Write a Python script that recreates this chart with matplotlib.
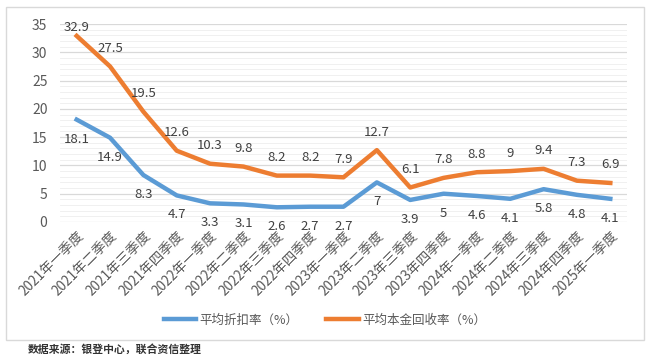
import matplotlib
matplotlib.use('Agg')
import matplotlib.pyplot as plt
from matplotlib.patches import Rectangle
from matplotlib.ticker import MultipleLocator

# fonts: CJK first, DejaVu as fallback
plt.rcParams['font.family'] = ['Noto Sans CJK SC', 'DejaVu Sans']

# data
quarters = ['2021年一季度', '2021年二季度', '2021年三季度', '2021年四季度',
            '2022年一季度', '2022年二季度', '2022年三季度', '2022年四季度',
            '2023年一季度', '2023年二季度', '2023年三季度', '2023年四季度',
            '2024年一季度', '2024年二季度', '2024年三季度', '2024年四季度',
            '2025年一季度']
discount = [18.1, 14.9, 8.3, 4.7, 3.3, 3.1, 2.6, 2.7, 2.7, 7, 3.9, 5, 4.6,
            4.1, 5.8, 4.8, 4.1]
recovery = [32.9, 27.5, 19.5, 12.6, 10.3, 9.8, 8.2, 8.2, 7.9, 12.7, 6.1, 7.8,
            8.8, 9, 9.4, 7.3, 6.9]
discount_name = '平均折扣率（%）'
recovery_name = '平均本金回收率（%）'
source = '数据来源：银登中心，联合资信整理'

blue, orange = '#5B9BD5', '#ED7D31'
txt = '#595959'

fig = plt.figure(figsize=(6.5, 3.58), dpi=100)

# light frame round the chart
fig.patches.append(Rectangle((6 / 650, 1 - 340 / 358), 638 / 650, 333 / 358,
                             transform=fig.transFigure, fill=False,
                             edgecolor='#d9d9d9', linewidth=1))

ax = fig.add_axes([60 / 650, 1 - 222 / 358, 567 / 650, 198 / 358])
x = list(range(len(quarters)))
ax.plot(x, discount, color=blue, linewidth=3.2, label=discount_name,
        solid_joinstyle='round', zorder=3)
ax.plot(x, recovery, color=orange, linewidth=3.2, label=recovery_name,
        solid_joinstyle='round', zorder=3)

# data labels: blue below, orange above
for i, v in enumerate(discount):
    ax.annotate('{:g}'.format(v), (i, v), xytext=(0, -14), textcoords='offset points',
                ha='center', va='center', fontsize=9.5, color='#404040')
for i, v in enumerate(recovery):
    off = 6 if i == 0 else 13
    ax.annotate('{:g}'.format(v), (i, v), xytext=(0, off), textcoords='offset points',
                ha='center', va='center', fontsize=9.5, color='#404040',
                annotation_clip=False)

ax.set_xlim(-0.5, len(quarters) - 0.5)
ax.set_ylim(0, 35)
ax.yaxis.set_major_locator(MultipleLocator(5))
ax.yaxis.set_minor_locator(MultipleLocator(1))
ax.grid(axis='y', which='major', color='#d9d9d9', linewidth=0.9)
ax.grid(axis='y', which='minor', color='#eeeeee', linewidth=0.6)
ax.set_axisbelow(True)
for s in ax.spines.values():
    s.set_visible(False)
ax.tick_params(axis='both', which='both', length=0, colors=txt)
ax.tick_params(axis='y', labelsize=10, pad=9)
ax.set_xticks(x)
ax.set_xticklabels(quarters, rotation=45, ha='right', rotation_mode='anchor',
                   fontsize=9.8, color=txt)
ax.tick_params(axis='x', pad=5)

fig.legend(loc='center', bbox_to_anchor=(0.5, 1 - 320 / 358), ncol=2,
           frameon=False, fontsize=9, labelcolor=txt, handlelength=2.6,
           columnspacing=2.2, handletextpad=0.3)

fig.text(28 / 650, 1 - 349 / 358, source, fontsize=7.8, color='#333333',
         fontweight='bold', va='center', ha='left')

fig.savefig('out.png', dpi=100, facecolor='white')
